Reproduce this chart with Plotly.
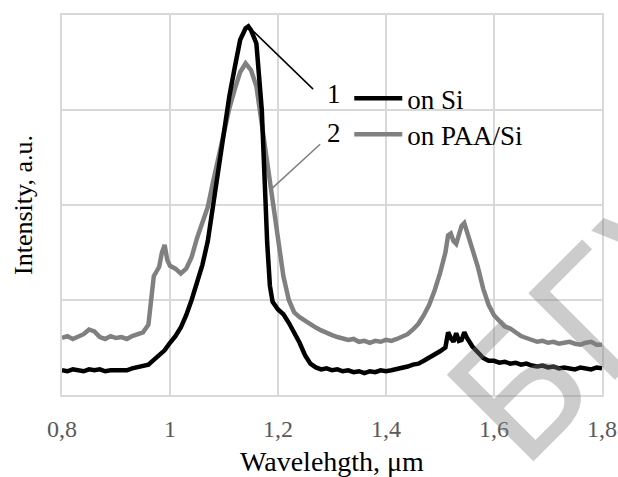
import plotly.graph_objects as go

# ---- data ----
wl_si = [0.80, 0.81, 0.82, 0.83, 0.84, 0.85, 0.86, 0.87, 0.88, 0.89,
         0.90, 0.91, 0.92, 0.93, 0.94, 0.95, 0.96, 0.97, 0.98, 0.99,
         1.00, 1.01, 1.02, 1.03, 1.04, 1.05, 1.06, 1.07, 1.08, 1.09,
         1.10, 1.11, 1.12, 1.13, 1.14, 1.145, 1.15, 1.16, 1.17, 1.175,
         1.18, 1.185, 1.19, 1.20, 1.21, 1.22, 1.23, 1.24, 1.25, 1.26,
         1.27, 1.28, 1.29, 1.30, 1.31, 1.32, 1.33, 1.34, 1.35, 1.36,
         1.37, 1.38, 1.39, 1.40, 1.41, 1.42, 1.43, 1.44, 1.45, 1.46,
         1.47, 1.48, 1.49, 1.50, 1.51, 1.515, 1.52, 1.525, 1.53, 1.535,
         1.54, 1.545, 1.55, 1.56, 1.57, 1.58, 1.59, 1.60, 1.61, 1.62,
         1.63, 1.64, 1.65, 1.66, 1.67, 1.68, 1.69, 1.70, 1.71, 1.72,
         1.73, 1.74, 1.75, 1.76, 1.77, 1.78, 1.79, 1.80]
int_si = [0.26, 0.25, 0.27, 0.26, 0.25, 0.27, 0.26, 0.27, 0.25, 0.26,
          0.26, 0.27, 0.26, 0.28, 0.29, 0.30, 0.32, 0.37, 0.42, 0.47,
          0.55, 0.62, 0.71, 0.84, 1.00, 1.17, 1.37, 1.62, 2.02, 2.42,
          2.82, 3.15, 3.45, 3.74, 3.86, 3.88, 3.84, 3.70, 3.00, 2.20,
          1.60, 1.15, 0.98, 0.90, 0.85, 0.76, 0.66, 0.55, 0.42, 0.33,
          0.29, 0.27, 0.28, 0.26, 0.27, 0.25, 0.26, 0.24, 0.25, 0.23,
          0.25, 0.24, 0.26, 0.25, 0.26, 0.27, 0.28, 0.30, 0.32, 0.33,
          0.36, 0.39, 0.42, 0.46, 0.50, 0.66, 0.60, 0.56, 0.65, 0.57,
          0.58, 0.66, 0.60, 0.51, 0.45, 0.39, 0.36, 0.36, 0.34, 0.35,
          0.33, 0.34, 0.32, 0.33, 0.31, 0.30, 0.31, 0.29, 0.30, 0.28,
          0.29, 0.28, 0.27, 0.29, 0.28, 0.27, 0.29, 0.28]

wl_paa = [0.80, 0.81, 0.82, 0.83, 0.84, 0.85, 0.86, 0.87, 0.88, 0.89,
          0.90, 0.91, 0.92, 0.93, 0.94, 0.95, 0.96, 0.965, 0.97, 0.975,
          0.98, 0.985, 0.99, 0.995, 1.00, 1.01, 1.02, 1.03, 1.04, 1.05,
          1.06, 1.07, 1.08, 1.09, 1.10, 1.11, 1.12, 1.13, 1.14, 1.15,
          1.16, 1.17, 1.18, 1.19, 1.20, 1.21, 1.22, 1.23, 1.24, 1.25,
          1.26, 1.27, 1.28, 1.29, 1.30, 1.31, 1.32, 1.33, 1.34, 1.35,
          1.36, 1.37, 1.38, 1.39, 1.40, 1.41, 1.42, 1.43, 1.44, 1.45,
          1.46, 1.47, 1.48, 1.49, 1.50, 1.51, 1.515, 1.52, 1.525, 1.53,
          1.535, 1.54, 1.545, 1.55, 1.56, 1.57, 1.58, 1.59, 1.60, 1.61,
          1.62, 1.63, 1.64, 1.65, 1.66, 1.67, 1.68, 1.69, 1.70, 1.71,
          1.72, 1.73, 1.74, 1.75, 1.76, 1.77, 1.78, 1.79, 1.80]
int_paa = [0.60, 0.62, 0.59, 0.61, 0.64, 0.69, 0.67, 0.61, 0.59, 0.62,
           0.60, 0.61, 0.59, 0.62, 0.64, 0.66, 0.74, 1.00, 1.25, 1.30,
           1.35, 1.50, 1.58, 1.42, 1.36, 1.33, 1.28, 1.33, 1.45, 1.65,
           1.80, 1.98, 2.25, 2.50, 2.80, 3.02, 3.22, 3.40, 3.49, 3.42,
           3.25, 2.85, 2.45, 2.08, 1.70, 1.25, 1.00, 0.87, 0.82, 0.78,
           0.75, 0.71, 0.68, 0.65, 0.63, 0.61, 0.60, 0.58, 0.59, 0.56,
           0.57, 0.55, 0.57, 0.56, 0.58, 0.57, 0.59, 0.62, 0.64, 0.69,
           0.75, 0.84, 0.95, 1.10, 1.28, 1.50, 1.68, 1.70, 1.62, 1.59,
           1.70, 1.78, 1.81, 1.72, 1.56, 1.35, 1.12, 0.95, 0.84, 0.78,
           0.72, 0.70, 0.66, 0.62, 0.60, 0.58, 0.56, 0.57, 0.55, 0.56,
           0.54, 0.55, 0.56, 0.54, 0.53, 0.55, 0.56, 0.53, 0.53]

series_names = ["on Si", "on PAA/Si"]
series_nums = ["1", "2"]
x_ticks = [0.8, 1.0, 1.2, 1.4, 1.6, 1.8]
x_ticklabels = ["0,8", "1", "1,2", "1,4", "1,6", "1,8"]

SERIF = "Liberation Serif"
BLACK = "#000000"
GRAY = "#808080"

fig = go.Figure()
fig.add_trace(go.Scatter(x=wl_paa, y=int_paa, mode="lines", name=series_names[1],
                         line=dict(color=GRAY, width=4.5), legend="legend2"))
fig.add_trace(go.Scatter(x=wl_si, y=int_si, mode="lines", name=series_names[0],
                         line=dict(color=BLACK, width=4.5), legend="legend"))

grid = "#d9d9d9"
fig.update_xaxes(range=[0.8, 1.8], tickvals=x_ticks, ticktext=x_ticklabels,
                 automargin=False,
                 showgrid=True, gridcolor=grid, gridwidth=1.5,
                 showline=True, linecolor=grid, linewidth=1.5, mirror=True,
                 zeroline=False, ticks="outside", ticklen=11, tickcolor="rgba(0,0,0,0)",
                 tickfont=dict(family=SERIF, size=24, color="#595959"),
                 title=dict(text="Wavelehgth, μm", font=dict(family=SERIF, size=28, color="#000"),
                            standoff=12))
fig.update_yaxes(range=[0, 4], tickvals=[0, 1, 2, 3, 4], showticklabels=False,
                 automargin=False,
                 showgrid=True, gridcolor=grid, gridwidth=1.5,
                 showline=True, linecolor=grid, linewidth=1.5, mirror=True,
                 zeroline=False, ticks="",
                 title=dict(text="Intensity, a.u.", font=dict(family=SERIF, size=26, color="#000"),
                            standoff=20))

leg_common = dict(font=dict(family=SERIF, size=27, color="#000"), bgcolor="rgba(0,0,0,0)",
                  itemwidth=48, xanchor="left", yanchor="middle", tracegroupgap=0)
fig.update_layout(
    width=618, height=477,
    margin=dict(l=62, r=16, t=15, b=82, autoexpand=False),
    plot_bgcolor="white", paper_bgcolor="white",
    showlegend=True,
    legend=dict(x=0.532, y=0.78, **leg_common),
    legend2=dict(x=0.532, y=0.685, **leg_common),
)

# leader lines and numbers
fig.add_shape(type="line", xref="x", yref="y", x0=1.145, y0=3.88, x1=1.265, y1=3.22,
              line=dict(color=BLACK, width=1.5))
fig.add_shape(type="line", xref="x", yref="y", x0=1.19, y0=2.18, x1=1.278, y1=2.64,
              line=dict(color=GRAY, width=1.5))
fig.add_annotation(x=1.287, y=3.17, xref="x", yref="y", text=series_nums[0], showarrow=False,
                   xanchor="left", yanchor="middle", font=dict(family=SERIF, size=27, color="#000"))
fig.add_annotation(x=1.287, y=2.76, xref="x", yref="y", text=series_nums[1], showarrow=False,
                   xanchor="left", yanchor="middle", font=dict(family=SERIF, size=27, color="#000"))

# watermark
fig.add_annotation(x=0.985, y=0.2, xref="paper", yref="paper", text="БГУ", showarrow=False,
                   textangle=-45, font=dict(family="DejaVu Sans", size=168, color="rgba(128,128,128,0.4)"),
                   xanchor="center", yanchor="middle")

fig.write_html("out.html", config={"displayModeBar": False},
               post_script="document.body.style.margin='0';")
